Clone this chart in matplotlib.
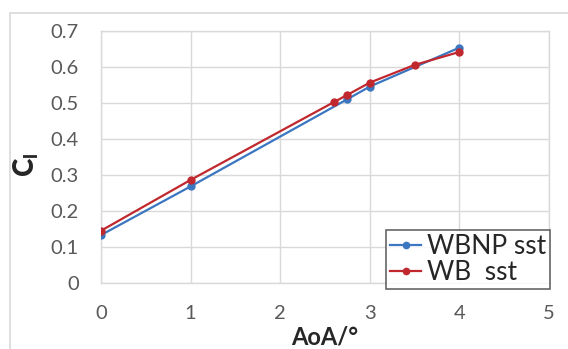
import matplotlib
matplotlib.use("Agg")
import matplotlib.pyplot as plt
from matplotlib.patches import Rectangle

plt.rcParams['font.family'] = ['Lato', 'DejaVu Sans']
plt.rcParams['mathtext.fontset'] = 'custom'
plt.rcParams['mathtext.rm'] = 'Lato'
plt.rcParams['mathtext.bf'] = 'Lato:black'

aoa_wbnp = [0, 1, 2.75, 3, 4]
cl_wbnp = [0.133, 0.268, 0.510, 0.545, 0.653]
aoa_wb = [0, 1, 2.6, 2.75, 3, 3.5, 4]
cl_wb = [0.145, 0.286, 0.502, 0.522, 0.556, 0.605, 0.641]
xticks = [0, 1, 2, 3, 4, 5]
yticks = [0, 0.1, 0.2, 0.3, 0.4, 0.5, 0.6, 0.7]
ytick_labels = ['0', '0.1', '0.2', '0.3', '0.4', '0.5', '0.6', '0.7']

fig = plt.figure(figsize=(5.68, 3.49), dpi=100)
ax = fig.add_axes([101/568, 1-283/349, (549-101)/568, (283-30.7)/349])

fig.patches.append(Rectangle((10/568, -0.1), 1.1, 1-13/349+0.1, transform=fig.transFigure,
                             fill=False, edgecolor='#D9D9D9', lw=1.2))

blue = '#3B76C0'
red = '#C0282E'
ax.plot(aoa_wbnp, cl_wbnp, '-o', color=blue, lw=1.6, ms=5, label='WBNP sst', zorder=3)
ax.plot(aoa_wb, cl_wb, '-o', color=red, lw=1.6, ms=5, label='WB  sst', zorder=4)

ax.set_xlim(0, 5)
ax.set_ylim(0, 0.7)
ax.set_xticks(xticks)
ax.set_yticks(yticks)
ax.set_yticklabels(ytick_labels)
ax.grid(True, color='#D9D9D9', lw=1)
ax.set_axisbelow(True)
for s in ax.spines.values():
    s.set_color('#D9D9D9')
    s.set_linewidth(1)
ax.tick_params(length=0, pad=16, labelsize=14.5, labelcolor='#595959')

ax.set_xlabel('AoA/°', fontsize=17, fontweight='bold', color='#262626')
ax.xaxis.set_label_coords(0.5, -0.17)
ax.set_ylabel(r'$\mathbf{C}_\mathbf{l}$', fontsize=20, color='#262626')
ax.yaxis.set_label_coords(-0.135, 0.47)

leg = ax.legend(loc='lower right', bbox_to_anchor=(1.002, -0.025), fontsize=19,
                frameon=True, fancybox=False, edgecolor='#404040', handlelength=1.2,
                handletextpad=0.2, borderpad=0.15, labelspacing=0.05, borderaxespad=0,
                markerscale=0.9)
leg.get_frame().set_linewidth(1.2)
for t in leg.get_texts():
    t.set_color('#262626')

fig.savefig('out.png', dpi=100)
